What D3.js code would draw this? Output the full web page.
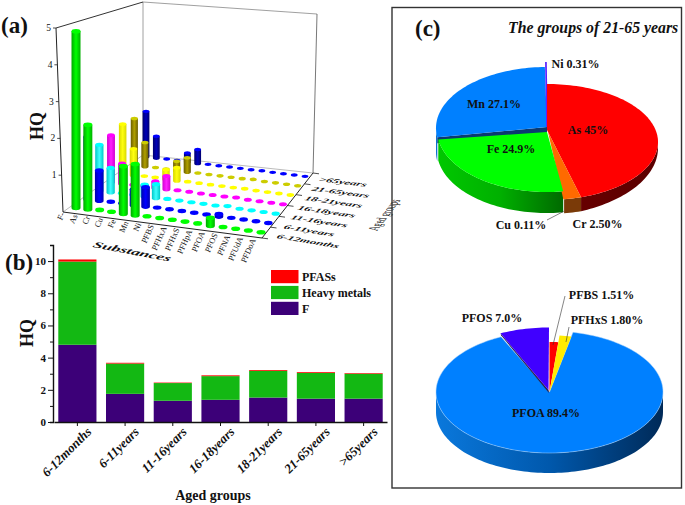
<!DOCTYPE html>
<html><head><meta charset="utf-8">
<script src="https://cdnjs.cloudflare.com/ajax/libs/d3/7.8.5/d3.min.js"></script>
<style>html,body{margin:0;padding:0;background:#fff}svg{display:block}text{font-family:"Liberation Serif",serif;fill:#111}</style>
</head><body><svg id="c" width="685" height="505"></svg>
<script>
// ---------- data ----------
const substances=["F-","As","Cr","Cu","Fe","Mn","Ni","PFBS","PFHxA","PFHxS","PFHpA","PFOA","PFOS","PFNA","PFUdA","PFDoA"];
const ageGroups=["6-12months","6-11years","11-16years","16-18years","18-21years","21-65years",">65years"];
const hq6to12m=[4.8,2.3,.03,.02,1.3,1.4,.02,.02,.02,.02,.02,.22,.02,.02,.02,.02];
const hq6to11y=[1.75,.85,.02,.02,.45,.55,.02,.02,.02,.02,.02,.08,.02,.02,.02,.02];
const hq11to16y=[1.32,.7,.02,.02,.35,.4,.02,.02,.02,.02,.02,.05,.02,.02,.02,.02];
const hq16to18y=[1.38,.6,.02,.02,.2,.4,.02,.02,.02,.02,.02,.04,.02,.02,.02,.02];
const hq18to21y=[1.5,.8,.02,.02,.3,.4,.02,.02,.02,.02,.02,.03,.02,.02,.02,.02];
const hq21to65y=[1.45,.75,.02,.02,.3,.45,.02,.02,.02,.02,.02,.04,.02,.02,.02,.02];
const hqOver65y=[1.45,.7,.02,.02,.3,.45,.02,.02,.02,.02,.02,.03,.02,.02,.02,.02];
const yTicks3d=[1,2,3,4,5];
const barF=[4.8,1.75,1.32,1.38,1.52,1.45,1.45];
const barMetals=[5.17,1.88,1.10,1.47,1.66,1.60,1.55];
const barPFAS=[.13,.05,.03,.05,.05,.05,.04];
const metalNames=["As","Cr","Cu","Fe","Mn","Ni"];
const metalShares=[45,2.5,.11,24.9,27.1,.31];
const metalText=["45%","2.50%","0.11%","24.9%","27.1%","0.31%"];
const pfasNames=["PFBS","PFHxS","PFOA","PFOS"];
const pfasShares=[1.51,1.8,89.4,7.0];
const pfasText=["1.51%","1.80%","89.4%","7.0%"];

// ---------- setup ----------
const svg=d3.select("#c");
const defs=svg.append("defs");
function grad(id,stops,user){
  const g=defs.append("linearGradient").attr("id",id);
  if(user){g.attr("gradientUnits","userSpaceOnUse").attr("x1",user[0]).attr("x2",user[1]).attr("y1",0).attr("y2",0);}
  stops.forEach((c,i)=>g.append("stop").attr("offset",i/(stops.length-1)).attr("stop-color",c));
}
const T=(x,y,s,size,o={})=>{const t=svg.append("text").attr("x",x).attr("y",y).attr("font-size",size).attr("font-weight",o.w||"bold").text(s);
  if(o.a)t.attr("text-anchor",o.a);if(o.i)t.attr("font-style","italic");if(o.t)t.attr("transform",o.t);if(o.ls)t.attr("letter-spacing",o.ls);return t;};

// ---------- (a) 3D bars ----------
const matrix=[hq6to12m,hq6to11y,hq11to16y,hq16to18y,hq18to21y,hq21to65y,hqOver65y];
const rowStyle=[
 {top:"#00ff00",body:["#00a800","#00ff00","#00b000"]},
 {top:"#0000ff",body:["#0000b0","#0000ff","#0000b0"]},
 {top:"#00ffff",body:["#00c8c8","#40ffff","#00c8c8"]},
 {top:"#ff00ff",body:["#d000d0","#ff20ff","#d000d0"]},
 {top:"#ffff00",body:["#d8d800","#ffff10","#d8d800"]},
 {top:"#cccc00",body:["#6a5e00","#b0a000","#6a5e00"]},
 {top:"#0000ff",body:["#00006e","#0000b8","#00006e"]}];
rowStyle.forEach((s,i)=>grad("row"+i,s.body));
const colIdx=d3.scaleLinear().domain([0,6,15]);
const frontX=colIdx.copy().range([76,147,261]),frontY=colIdx.copy().range([208,217,233]);
const backX=colIdx.copy().range([146,208,305]),backY=colIdx.copy().range([157,165,177]);
const rowT=d3.scaleLinear().domain([0,6]).range([0,1]);
const px=(i,r)=>d3.interpolateNumber(frontX(i),backX(i))(rowT(r));
const py=(i,r)=>d3.interpolateNumber(frontY(i),backY(i))(rowT(r));
const unitPx=d3.scaleLinear().domain([0,6]).range([36.8,31.5]);
const rxS=d3.scaleLinear().domain([0,6]).range([4.5,3.4]);
const ryS=d3.scaleLinear().domain([0,6]).range([2.3,1.7]);

// walls
const wall="#666";
const Wl=(a,b,c,w)=>svg.append("path").attr("d",d3.line()([a,b])).attr("stroke",c||wall).attr("stroke-width",w||.8).attr("fill","none");
Wl([143,2],[143,155],"#888");Wl([143,2],[317,14],"#888");Wl([317,14],[313,173],"#555");
Wl([143,155],[313,173],"#aaa");Wl([63,212],[143,155],"#aaa");
Wl([56,28],[143,2],"#333",1);Wl([56,28],[63,212],"#222",1);
Wl([63,212],[262,238],"#222",1);Wl([262,238],[313,173],"#222",1);

const y3d=d3.scaleLinear().domain([0,5]).range([212,28]);
const y3dX=d3.scaleLinear().domain([0,5]).range([63,56]);
yTicks3d.forEach(v=>{
  Wl([y3dX(v)-3,y3d(v)],[y3dX(v),y3d(v)],"#222",.8);
  T(y3dX(v)-5,y3d(v)+3,v,9.5,{a:"end",w:"normal"});
});

const cells=[];
d3.range(6,-1,-1).forEach(r=>substances.forEach((s,i)=>cells.push({r,i,v:matrix[r][i]})));
const barG=svg.append("g");
cells.forEach(d=>{
  const x=px(d.i,d.r),y=py(d.i,d.r),rx=rxS(d.r),ry=ryS(d.r),h=d.v*unitPx(d.r);
  if(h>2){
    const p=d3.path();
    p.moveTo(x-rx,y);p.lineTo(x-rx,y-h);p.lineTo(x+rx,y-h);p.lineTo(x+rx,y);
    p.bezierCurveTo(x+rx,y+ry*1.3,x-rx,y+ry*1.3,x-rx,y);
    barG.append("path").attr("d",p.toString()).attr("fill",`url(#row${d.r})`);
  }
  barG.append("ellipse").attr("cx",x).attr("cy",y-h).attr("rx",rx).attr("ry",ry).attr("fill",rowStyle[d.r].top);
});

// substance tick labels
const labX=d3.scaleLinear().domain([0,15]).range([65,256]),labY=d3.scaleLinear().domain([0,15]).range([214,240]);
substances.forEach((s,i)=>T(labX(i),labY(i),s,8.3,{a:"end",w:"normal",t:`rotate(-66 ${labX(i)} ${labY(i)})`}));
// age labels and ticks
const ageX=d3.scaleLinear().domain([0,6]).range([276,318]),ageY=d3.scaleLinear().domain([0,6]).range([238,181]);
const ageRot=d3.scaleLinear().domain([0,6]).range([9.5,7]);
const edgeX=d3.scaleLinear().domain([0,6]).range([262,313]),edgeY=d3.scaleLinear().domain([0,6]).range([238,173]);
ageGroups.forEach((s,r)=>{
  Wl([edgeX(r),edgeY(r)],[edgeX(r)+6,edgeY(r)+.8],"#222",.8);
  T(0,0,s,8,{i:1,t:`translate(${ageX(r)},${ageY(r)}) rotate(${ageRot(r)}) skewX(-25) scale(1.6,.8)`});
});
T(0,0,"Substances",12,{i:1,t:"translate(92,247) rotate(10.6) skewX(-20) scale(1.42,.75)"});
T(0,0,"Aged groups",11,{w:"normal",t:"matrix(.42,-.55,1.3,.1,377,231)"});
T(43,140,"HQ",18,{t:"rotate(-90 43 140)"});
T(1,33,"(a)",23);T(5,270,"(b)",23);T(415,36,"(c)",23);

// ---------- (b) stacked bars ----------
const xB=d3.scaleBand().domain(ageGroups).range([54,387]).paddingInner(.2).paddingOuter(.09);
const yB=d3.scaleLinear().domain([0,11]).range([422,245]);
const stackRows=ageGroups.map((g,i)=>({g,F:barF[i],Heavy:barMetals[i],PFAS:barPFAS[i]}));
const series=d3.stack().keys(["F","Heavy","PFAS"])(stackRows);
const barCol={F:"#3c0078",Heavy:"#13b813",PFAS:"#ff0000"};
svg.append("g").selectAll("g").data(series).join("g").attr("fill",d=>barCol[d.key])
  .selectAll("rect").data(d=>d).join("rect")
  .attr("x",d=>xB(d.data.g)).attr("width",xB.bandwidth())
  .attr("y",d=>yB(d[1])).attr("height",d=>yB(d[0])-yB(d[1]));
const axL=svg.append("g").attr("transform","translate(53,0)").call(d3.axisLeft(yB).tickValues(d3.range(0,12)).tickFormat(d=>d%2==0&&d<=10?d:"").tickSize(3));
axL.selectAll("text").attr("font-size",11).attr("font-weight","bold").attr("font-family","Liberation Serif").attr("dx",-1);
axL.selectAll("line").attr("stroke","#111").attr("stroke-width",1).attr("x2",function(d){return d%2==0?-5:-3;});
axL.select(".domain").attr("stroke","#111").attr("stroke-width",1.4);
const axB=svg.append("g").attr("transform","translate(0,422)").call(d3.axisBottom(xB).tickSize(4).tickSizeOuter(0));
axB.select(".domain").attr("stroke","#111").attr("stroke-width",1.4);
axB.selectAll("line").attr("stroke","#111");
axB.selectAll("text").attr("font-size",13).attr("font-weight","bold").attr("font-style","italic").attr("font-family","Liberation Serif")
  .attr("text-anchor","end").attr("dx",3).attr("dy",11).attr("transform","rotate(-45)");
T(213,500,"Aged groups",14,{a:"middle"});
T(33,347,"HQ",18,{t:"rotate(-90 33 347)"});
[["PFASs","#ff0000"],["Heavy metals","#13b813"],["F","#3c0078"]].forEach((d,i)=>{
  const y=270+i*15.9;
  svg.append("rect").attr("x",271).attr("y",y).attr("width",27.5).attr("height",13.2).attr("fill",d[1]);
  T(302,y+11,d[0],12);
});

// ---------- (c) panel ----------
svg.append("rect").attr("x",392).attr("y",7.5).attr("width",289.5).attr("height",480.5).attr("fill","none").attr("stroke","#333").attr("stroke-width",1.4);
T(508,33,"The groups of 21-65 years",15.8,{i:1});

const pie=d3.pie().sort(null).value(d=>d.v);
const ell=(s,t)=>[s.cx+s.rx*Math.sin(t),s.cy-s.ry*Math.cos(t)];
const arcPts=(s,a,b)=>{const n=Math.max(2,Math.ceil(Math.abs(b-a)/.03));return d3.range(n+1).map(k=>ell(s,a+(b-a)*k/n));};
const line=d3.line();
function wedge(s,a,b,fill,stroke){
  const p=svg.append("path").attr("d",line([[s.ax,s.ay],...arcPts(s,a,b)])+"Z").attr("fill",fill);
  if(stroke)p.attr("stroke",stroke).attr("stroke-width",.5);return p;
}
function rim(s,a,b,d0,d1,fill){
  const lo=Math.max(a,Math.PI/2),hi=Math.min(b,Math.PI*1.5);if(hi<=lo)return;
  const top=arcPts(s,lo,hi),n=top.length-1,bot=top.map((p,k)=>[p[0],p[1]+d0+(d1-d0)*k/n]).reverse();
  svg.append("path").attr("d",line([...top,...bot])+"Z").attr("fill",fill);
}
grad("rimFe",["#00c800","#00b000","#006a00"],[437,563]);
grad("rimAs",["#660000","#5a0000"],[582,658]);
grad("rimOA",["#0a78dc","#0058ac","#002a58"],[436,663]);

// pie of metals
const mShape={
 As:{cx:547,cy:142,rx:111,ry:58,ax:547,ay:130},
 Cr:{cx:547,cy:142,rx:111,ry:58,ax:548,ay:132},
 Cu:{cx:547,cy:142,rx:111,ry:58,ax:548,ay:132},
 Fe:{cx:547,cy:130,rx:110,ry:62,ax:547,ay:132},
 Mn:{cx:547,cy:128,rx:111,ry:61,ax:547,ay:127},
 Ni:{cx:547,cy:128,rx:111,ry:66,ax:547,ay:127}};
const mFill={As:"#ff0000",Cr:"#ff6a00",Cu:"#c0a000",Fe:"#00ff00",Mn:"#0080ff",Ni:"#5a20ff"};
const mArcs=Object.fromEntries(pie(metalNames.map((n,i)=>({n,v:metalShares[i]}))).map(a=>[a.data.n,a]));
const A=n=>mArcs[n];
// Mn rim + dark cut face
rim(mShape.Mn,A("Mn").startAngle,A("Mn").endAngle,24,24,"#0a6fd0");
{const s=mShape.Mn,p=ell(s,A("Mn").startAngle);
 svg.append("path").attr("d",line([[s.ax,s.ay],p,[p[0],p[1]+6],[s.ax,s.ay+6]])+"Z").attr("fill","#0b3a70");}
wedge(mShape.Mn,A("Mn").startAngle,A("Mn").endAngle,mFill.Mn);
{const s=mShape.Ni,p=ell(s,(A("Ni").startAngle+A("Ni").endAngle)/2);
 svg.append("path").attr("d",line([[s.ax,s.ay],p])).attr("stroke",mFill.Ni).attr("stroke-width",1.7);}
rim(mShape.As,A("As").startAngle,A("As").endAngle,6,14,"url(#rimAs)");
rim(mShape.Cr,A("Cr").startAngle,A("Cr").endAngle,14,14,"#7a3a08");
rim(mShape.Fe,A("Fe").startAngle,A("Fe").endAngle,21,21,"url(#rimFe)");
wedge(mShape.As,A("As").startAngle,A("As").endAngle,mFill.As);
wedge(mShape.Cr,A("Cr").startAngle,A("Cu").endAngle,mFill.Cr);
wedge(mShape.Fe,A("Fe").startAngle,A("Fe").endAngle,mFill.Fe);

const metalLabels=[[588,134],[597.5,228],[521,229],[511,153],[494,108],[575.5,68]];
metalLabels.forEach((d,i)=>T(d[0],d[1],metalNames[i]+" "+metalText[i],12,{a:"middle"}));
{const s=mShape.Cu,p=ell(s,(A("Cu").startAngle+A("Cu").endAngle)/2);
 svg.append("path").attr("d",line([[547,220],[p[0],p[1]+12]])).attr("stroke","#333").attr("stroke-width",.6);}

// pie of PFAS
const pBase={cx:549.5,cy:392,rx:113.5,ry:61,ax:549.5,ay:392};
const pScale={PFBS:.82,PFHxS:.93,PFOA:1,PFOS:1};
const pFill={PFBS:"#ff0000",PFHxS:"#ffec00",PFOA:"#0080ff",PFOS:"#4000ff"};
const pArcs=pie(pfasNames.map((n,i)=>({n,v:pfasShares[i]})));
const oa=pArcs[2],os=pArcs[3];
rim(pBase,oa.startAngle,oa.endAngle,20,20,"url(#rimOA)");
wedge(pBase,oa.startAngle,oa.endAngle,pFill.PFOA,"#a8d0f8");
pArcs.filter(a=>a.data.n!="PFOA"&&a.data.n!="PFOS").forEach(a=>{
  const k=pScale[a.data.n];
  wedge({...pBase,rx:pBase.rx*k,ry:pBase.ry*k},a.startAngle,a.endAngle,pFill[a.data.n]);
});
{const s={...pBase,cy:388.5,ay:390,cx:549,ax:548.5};
 const p=ell(s,os.startAngle);
 svg.append("path").attr("d",line([[s.ax,s.ay],p,[p[0]+.5,p[1]+2],[s.ax+.5,s.ay+3]])+"Z").attr("fill","#2a2050");
 wedge(s,os.startAngle,os.endAngle,pFill.PFOS);}
const pfasLabels=[[601.5,299],[607,324],[546,417],[492,322]];
pfasNames.forEach((n,i)=>T(pfasLabels[i][0],pfasLabels[i][1],n+" "+pfasText[i],12,{a:"middle"}));
[[[565,296],[553,345]],[[569,327],[566,342]]].forEach(d=>svg.append("path").attr("d",line(d)).attr("stroke","#333").attr("stroke-width",.6));
</script></body></html>
